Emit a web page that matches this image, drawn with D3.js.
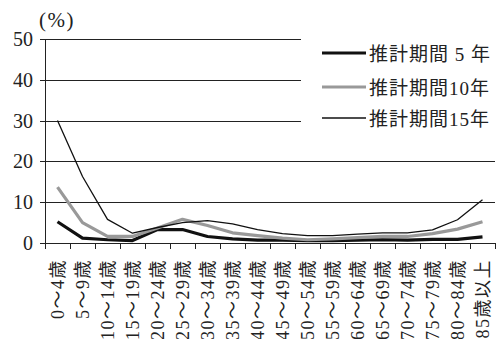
<!DOCTYPE html>
<html>
<head>
<meta charset="utf-8">
<script src="https://cdn.jsdelivr.net/npm/d3@7/dist/d3.min.js"></script>
<style>
  html, body { margin: 0; padding: 0; background: #fff; }
  svg { display: block; }
  text { font-family: "Liberation Serif", "Noto Sans CJK JP", serif; fill: #222; }
</style>
</head>
<body>
<svg id="chart" width="496" height="339"></svg>
<script>
// Age groups on the x axis
const categories = ["0～4歳","5～9歳","10～14歳","15～19歳","20～24歳","25～29歳","30～34歳","35～39歳","40～44歳","45～49歳","50～54歳","55～59歳","60～64歳","65～69歳","70～74歳","75～79歳","80～84歳","85歳以上"];

// Error (%) by projection period
const period5  = [5.2, 1.2, 0.8, 0.6, 3.3, 3.3, 1.6, 1.0, 0.7, 0.7, 0.6, 0.6, 0.7, 0.8, 0.7, 0.9, 0.9, 1.5];
const period10 = [13.7, 5.0, 1.6, 1.6, 3.7, 5.8, 4.3, 2.5, 1.8, 1.2, 0.8, 1.0, 1.3, 1.6, 1.6, 2.3, 3.4, 5.2];
const period15 = [30.0, 16.3, 5.8, 2.4, 3.8, 5.0, 5.5, 4.7, 3.3, 2.3, 1.8, 1.8, 2.2, 2.5, 2.5, 3.2, 5.7, 10.6];

const seriesNames = ["推計期間 5 年", "推計期間10年", "推計期間15年"];
const yTicks = [0, 10, 20, 30, 40, 50];
const yUnit = "(%)";

const svg = d3.select("#chart");

const x = d3.scaleBand().domain(categories).range([45, 495]);
const y = d3.scaleLinear().domain([0, 50]).range([243, 39]);

const series = [
  { name: seriesNames[0], values: period5,  color: "#111", width: 3.2 },
  { name: seriesNames[1], values: period10, color: "#999", width: 3.2 },
  { name: seriesNames[2], values: period15, color: "#111", width: 1.3 }
];

// Horizontal gridlines with small ticks left of the axis
svg.append("g")
  .selectAll("line")
  .data(yTicks.filter(d => d > 0))
  .join("line")
  .attr("x1", 40).attr("x2", 495)
  .attr("y1", d => Math.round(y(d)) + 0.5)
  .attr("y2", d => Math.round(y(d)) + 0.5)
  .attr("stroke", "#222").attr("stroke-width", 1);

// Y axis tick labels
svg.append("g")
  .selectAll("text")
  .data(yTicks)
  .join("text")
  .attr("x", 33)
  .attr("y", d => y(d))
  .attr("text-anchor", "end")
  .attr("dominant-baseline", "central")
  .attr("font-size", 20)
  .text(d => d);

// Unit label above the y axis
svg.append("text")
  .attr("x", 39).attr("y", 27)
  .attr("font-size", 21)
  .attr("letter-spacing", 1.5)
  .text(yUnit);

// Y axis line
svg.append("line")
  .attr("x1", 45.5).attr("x2", 45.5)
  .attr("y1", y(50)).attr("y2", 249)
  .attr("stroke", "#222").attr("stroke-width", 1);

// X axis line and category boundary ticks
svg.append("line")
  .attr("x1", 40).attr("x2", 495)
  .attr("y1", Math.round(y(0)) + 0.5).attr("y2", Math.round(y(0)) + 0.5)
  .attr("stroke", "#222").attr("stroke-width", 1);

svg.append("g")
  .selectAll("line")
  .data(categories.slice(1).concat(["__end"]))
  .join("line")
  .attr("x1", (d, i) => Math.round(x(categories[0]) + (i + 1) * x.bandwidth()) + 0.5)
  .attr("x2", (d, i) => Math.round(x(categories[0]) + (i + 1) * x.bandwidth()) + 0.5)
  .attr("y1", y(0)).attr("y2", 249)
  .attr("stroke", "#222").attr("stroke-width", 1);

// Rotated category labels
svg.append("g")
  .selectAll("text")
  .data(categories)
  .join("text")
  .attr("transform", d => `translate(${x(d) + x.bandwidth() / 2},259) rotate(-90)`)
  .attr("text-anchor", "end")
  .attr("dominant-baseline", "central")
  .attr("font-size", 18)
  .attr("letter-spacing", 1.5)
  .text(d => d);

// Series lines
const line = d3.line()
  .x((d, i) => x(categories[i]) + x.bandwidth() / 2)
  .y(d => y(d));

svg.append("g")
  .selectAll("path")
  .data(series)
  .join("path")
  .attr("d", d => line(d.values))
  .attr("fill", "none")
  .attr("stroke", d => d.color)
  .attr("stroke-width", d => d.width)
  .attr("stroke-linejoin", "round");

// Legend
const legend = svg.append("g");
legend.append("rect")
  .attr("x", 301).attr("y", 30).attr("width", 195).attr("height", 105)
  .attr("fill", "#fff");

const legendRows = [53, 87, 118];
const item = legend.selectAll("g.item")
  .data(series)
  .join("g")
  .attr("class", "item")
  .attr("transform", (d, i) => `translate(0,${legendRows[i]})`);

item.append("line")
  .attr("x1", 322).attr("x2", 366)
  .attr("y1", 0).attr("y2", 0)
  .attr("stroke", d => d.color)
  .attr("stroke-width", d => d.width);

item.append("text")
  .attr("x", 369).attr("y", 1)
  .attr("dominant-baseline", "central")
  .attr("font-size", 19)
  .attr("letter-spacing", 1)
  .text(d => d.name);
</script>
</body>
</html>
